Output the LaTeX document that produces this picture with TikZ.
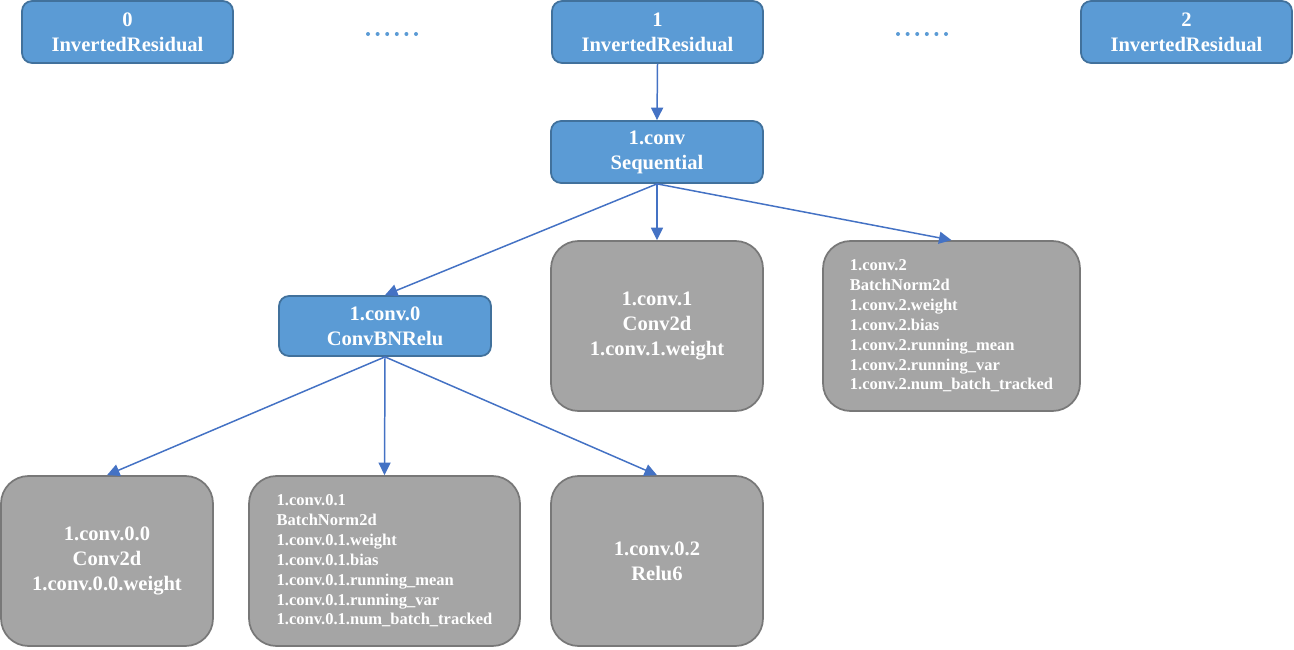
\documentclass[tikz,border=0pt]{standalone}
\usepackage{fontspec}
\setmainfont{Liberation Serif}
\usetikzlibrary{arrows.meta}
\definecolor{boxblue}{HTML}{5B9BD5}
\definecolor{lineblue}{HTML}{41719C}
\definecolor{boxgray}{HTML}{A5A5A5}
\definecolor{linegray}{HTML}{787878}
\definecolor{arrblue}{HTML}{4472C4}
\tikzset{
blk/.style={draw=lineblue,fill=boxblue,line width=1pt,rounded corners=0.2cm,text=white,align=center,
  font=\fontsize{11.7}{14.2}\selectfont\bfseries,minimum width=4.22cm,minimum height=1.24cm,inner sep=0pt},
gry/.style={draw=linegray,fill=boxgray,line width=1pt,rounded corners=0.55cm,text=white,align=center,
  font=\fontsize{11.7}{14.2}\selectfont\bfseries,minimum width=4.24cm,minimum height=3.4cm,inner sep=0pt},
grs/.style={gry,align=left,font=\fontsize{9.4}{11.3}\selectfont\bfseries},
lnk/.style={arrblue,line width=0.85pt,-{Triangle[length=2.5mm,width=2.4mm]}}
}
\begin{document}
\begin{tikzpicture}[x=0.02cm,y=-0.02cm]
\useasboundingbox (0,0) rectangle (1294,649);
\node[blk] (b0) at (127.5,32) {0\\InvertedResidual};
\node[blk] (b1) at (657.5,32) {1\\InvertedResidual};
\node[blk] (b2) at (1186.5,32) {2\\InvertedResidual};
\foreach \i in {0,...,5} {
\fill[boxblue] (368+9.6*\i,34) circle (2);
\fill[boxblue] (898+9.6*\i,34) circle (2);
}
\node[blk,minimum width=4.24cm] (cv) at (657,152) {1.conv\\Sequential};
\node[blk,minimum width=4.24cm,minimum height=1.2cm] (c0) at (385,326) {1.conv.0\\ConvBNRelu};
\node[gry] (c1) at (657,326) {1.conv.1\\Conv2d\\1.conv.1.weight};
\node[grs,minimum width=5.14cm] (c2) at (951.5,326) {1.conv.2\\BatchNorm2d\\1.conv.2.weight\\1.conv.2.bias\\1.conv.2.running\_mean\\1.conv.2.running\_var\\1.conv.2.num\_batch\_tracked};
\node[gry] (c00) at (107,561) {1.conv.0.0\\Conv2d\\1.conv.0.0.weight};
\node[grs,minimum width=5.42cm] (c01) at (384.5,561) {1.conv.0.1\\BatchNorm2d\\1.conv.0.1.weight\\1.conv.0.1.bias\\1.conv.0.1.running\_mean\\1.conv.0.1.running\_var\\1.conv.0.1.num\_batch\_tracked};
\node[gry] (c02) at (657,561) {1.conv.0.2\\Relu6};

\draw[lnk] (b1.south) -- (cv.north);
\draw[lnk] (cv.south) -- (c0.north);
\draw[lnk] (cv.south) -- (c1.north);
\draw[lnk] (cv.south) -- (c2.north);
\draw[lnk] (c0.south) -- (c00.north);
\draw[lnk] (c0.south) -- (c01.north);
\draw[lnk] (c0.south) -- (c02.north);
\end{tikzpicture}
\end{document}
